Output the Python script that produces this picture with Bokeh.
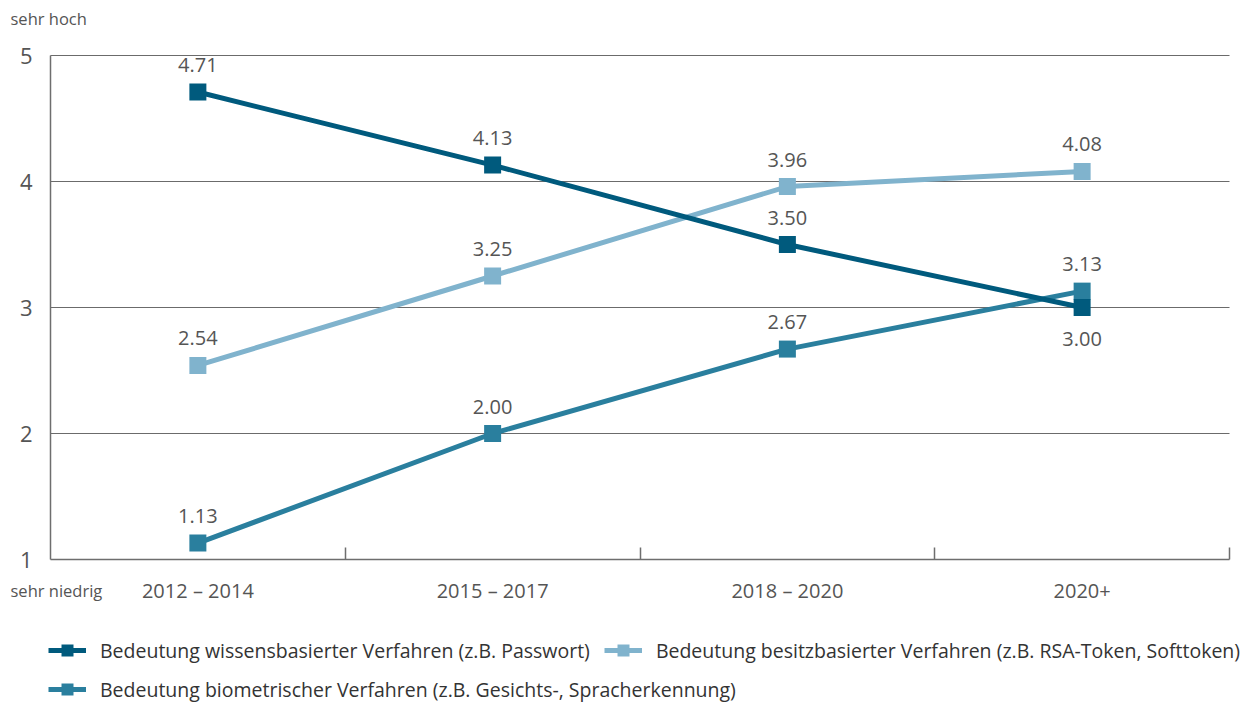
from bokeh.plotting import figure
from bokeh.models import (ColumnDataSource, FixedTicker, Range1d, Legend, LegendItem,
                          LabelSet, Label)
from bokeh.embed import file_html
from bokeh.resources import INLINE
from bokeh.core.properties import value

categories = ["2012 – 2014", "2015 – 2017", "2018 – 2020", "2020+"]
wissen = [4.71, 4.13, 3.50, 3.00]
besitz = [2.54, 3.25, 3.96, 4.08]
biometrie = [1.13, 2.00, 2.67, 3.13]
names = [
    "Bedeutung wissensbasierter Verfahren (z.B. Passwort)",
    "Bedeutung besitzbasierter Verfahren (z.B. RSA-Token, Softtoken)",
    "Bedeutung biometrischer Verfahren (z.B. Gesichts-, Spracherkennung)",
]
colors = ["#005a7d", "#80b3cd", "#2a7f9e"]
y_ticks = [1, 2, 3, 4, 5]
y_top_label = "sehr hoch"
y_bottom_label = "sehr niedrig"

FONT = "Open Sans"
TXT = "#555555"
AX = "#6e6e6e"

W, H = 1246, 702
# plot area in pixels (layout)
PL, PR, PT, PB = 50, 1229, 55, 559
ncat = len(categories)
ymin, ymax = min(y_ticks), max(y_ticks)
xpx = (PR - PL) / ncat
ypx = (PB - PT) / (ymax - ymin)

xc = [i + 0.5 for i in range(ncat)]
bounds = [i + 1 for i in range(ncat)]

p = figure(width=W, height=H,
           x_range=Range1d(-PL / xpx, ncat + (W - PR) / xpx),
           y_range=Range1d(ymin - (H - PB) / ypx, ymax + PT / ypx),
           output_backend="svg", toolbar_location=None,
           min_border=0, min_border_left=0, min_border_right=0,
           min_border_top=0, min_border_bottom=0)
p.outline_line_color = None
p.xgrid.visible = False
p.ygrid.visible = False

# horizontal grid lines across the category area
p.segment(x0=[0] * (len(y_ticks) - 1), x1=[ncat] * (len(y_ticks) - 1),
          y0=y_ticks[1:], y1=y_ticks[1:], line_color="#6b6b6b", line_width=1)

# y axis
p.yaxis.fixed_location = 0
p.yaxis.bounds = (ymin, ymax)
p.yaxis.ticker = FixedTicker(ticks=y_ticks)
p.yaxis.major_tick_in = 0
p.yaxis.major_tick_out = 0
p.yaxis.minor_tick_line_color = None
p.yaxis.major_label_text_font = FONT
p.yaxis.major_label_text_font_size = "22px"
p.yaxis.major_label_text_color = TXT
p.yaxis.major_label_standoff = 18
p.yaxis.axis_line_color = AX
p.yaxis.axis_line_width = 1.5

# x axis
p.xaxis.fixed_location = ymin
p.xaxis.bounds = (0, ncat)
p.xaxis.ticker = FixedTicker(ticks=xc, minor_ticks=bounds)
p.xaxis.major_label_overrides = {xv: c for xv, c in zip(xc, categories)}
p.xaxis.major_tick_in = 0
p.xaxis.major_tick_out = 0
p.xaxis.minor_tick_in = 12
p.xaxis.minor_tick_out = 0
p.xaxis.minor_tick_line_color = AX
p.xaxis.minor_tick_line_width = 1.5
p.xaxis.axis_line_color = AX
p.xaxis.axis_line_width = 1.5
p.xaxis.major_label_text_font = FONT
p.xaxis.major_label_text_font_size = "20px"
p.xaxis.major_label_text_color = TXT
p.xaxis.major_label_standoff = 17

series = [wissen, besitz, biometrie]
renderers = {}
for idx in [1, 2, 0]:
    vals = series[idx]
    src = ColumnDataSource(dict(
        x=xc, y=vals,
        t=["%.2f" % v for v in vals],
        off=[(-31 if (idx == 0 and i == len(vals) - 1) else 27) for i in range(len(vals))],
    ))
    ln = p.line("x", "y", source=src, line_width=5, line_color=colors[idx])
    sc = p.scatter("x", "y", source=src, marker="square", size=17,
                   fill_color=colors[idx], line_color=colors[idx], line_width=0)
    renderers[idx] = [ln, sc]
    ls = LabelSet(x="x", y="y", text="t", source=src, y_offset="off",
                  text_align="center", text_baseline="middle",
                  text_font=value(FONT), text_font_size="20px", text_color=TXT)
    p.add_layout(ls)

p.add_layout(Label(x=0, y=ymax, x_offset=-40, y_offset=37, text=y_top_label,
                   text_font=FONT, text_font_size="16.5px", text_color=TXT,
                   text_baseline="middle", text_align="left"))
p.add_layout(Label(x=0, y=ymin, x_offset=-40, y_offset=-31, text=y_bottom_label,
                   text_font=FONT, text_font_size="16.5px", text_color=TXT,
                   text_baseline="middle", text_align="left"))


def mk_legend(idxs, loc):
    lg = Legend(items=[LegendItem(label=names[i], renderers=renderers[i]) for i in idxs],
                orientation="horizontal", location=loc,
                glyph_width=38, glyph_height=30, label_standoff=14, spacing=14,
                label_text_font=FONT, label_text_font_size="19.5px",
                label_text_color="#333333", border_line_color=None,
                background_fill_alpha=0, margin=0, padding=0,
                label_height=20)
    return lg


p.add_layout(mk_legend([0, 1], (48, 37)))
p.add_layout(mk_legend([2], (48, -2)))

open("out.html", "w").write(file_html(p, INLINE))
